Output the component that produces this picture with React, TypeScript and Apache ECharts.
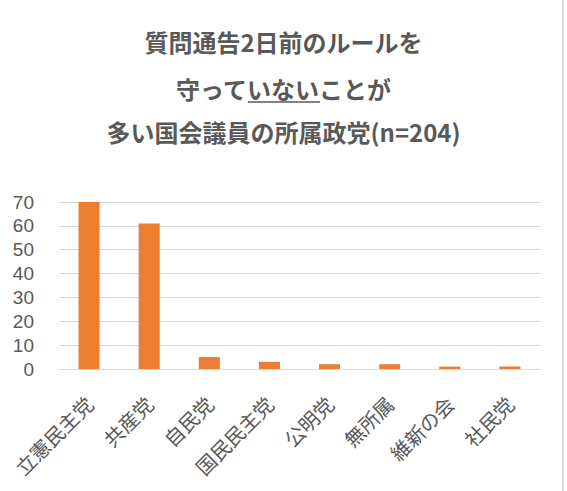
import { useEffect, useRef } from "react";
import * as echarts from "echarts";

const parties = ["立憲民主党", "共産党", "自民党", "国民民主党", "公明党", "無所属", "維新の会", "社民党"];
const counts = [70, 61, 5, 3, 2, 2, 1, 1];
const titleLines = ["質問通告2日前のルールを", "守っていないことが", "多い国会議員の所属政党(n=204)"];
const titleTops = [29, 76, 119];

const FONT = "'Noto Sans CJK JP', 'Noto Sans', sans-serif";

const App = () => {
  const chartRef = useRef<HTMLDivElement>(null);

  useEffect(() => {
    if (!chartRef.current) return;
    const chart = echarts.init(chartRef.current, undefined, { renderer: "svg" });

    chart.setOption({
      animation: false,
      backgroundColor: "#ffffff",
      title: titleLines.map((t, i) => ({
        text: t,
        left: "center",
        top: titleTops[i],
        padding: 0,
        textStyle: {
          fontFamily: FONT,
          fontSize: 24,
          fontWeight: "bold",
          color: "#595959",
        },
      })),
      grid: { left: 59, right: 27, top: 202, bottom: 122 },
      xAxis: {
        type: "category",
        data: parties,
        axisLine: { lineStyle: { color: "#d9d9d9" } },
        axisTick: { show: false },
        axisLabel: {
          interval: 0,
          rotate: 45,
          margin: 31,
          fontFamily: FONT,
          fontSize: 20,
          color: "#595959",
        },
      },
      yAxis: {
        type: "value",
        min: 0,
        max: 70,
        interval: 10,
        axisLine: { show: false },
        axisTick: { show: false },
        axisLabel: {
          margin: 25,
          fontFamily: "'Liberation Sans', Arial, sans-serif",
          fontSize: 19,
          lineHeight: 20,
          color: "#595959",
        },
        splitLine: { lineStyle: { color: "#d9d9d9" } },
      },
      series: [
        {
          type: "bar",
          data: counts,
          barWidth: "35%",
          itemStyle: { color: "#ed7d31" },
        },
      ],
      graphic: [
        {
          type: "line",
          shape: { x1: 248, y1: 102, x2: 320, y2: 102 },
          style: { stroke: "#595959", lineWidth: 1.5 },
        },
        {
          type: "line",
          shape: { x1: 563, y1: 0, x2: 563, y2: 491 },
          style: { stroke: "#d9d9d9", lineWidth: 2 },
        },
      ],
    });

    return () => chart.dispose();
  }, []);

  return (
    <div
      ref={chartRef}
      style={{ position: "fixed", left: 0, top: 0, width: 567, height: 491 }}
    />
  );
};

export default App;
